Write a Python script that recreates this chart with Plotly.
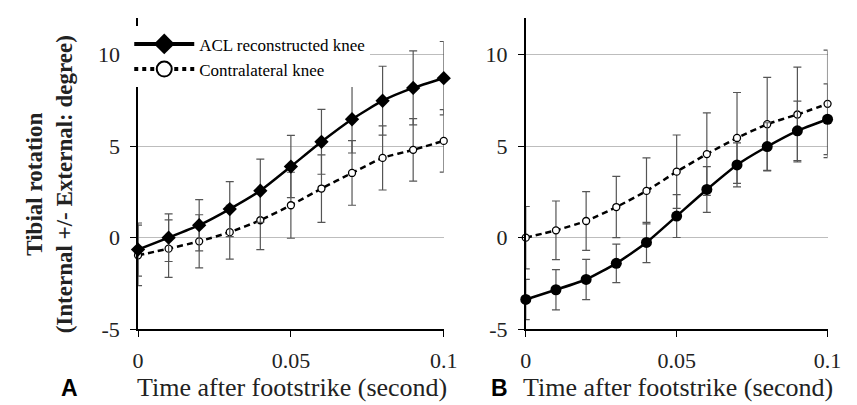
import plotly.graph_objects as go

time_s = [0.0, 0.01, 0.02, 0.03, 0.04, 0.05, 0.06, 0.07, 0.08, 0.09, 0.1]

# Panel A
a_acl_mean = [-0.65, 0.0, 0.68, 1.56, 2.56, 3.88, 5.23, 6.46, 7.47, 8.17, 8.7]
a_acl_sd = [1.45, 1.3, 1.4, 1.5, 1.72, 1.7, 1.77, 1.84, 1.88, 2.02, 2.0]
a_con_mean = [-0.96, -0.6, -0.2, 0.3, 0.95, 1.77, 2.68, 3.53, 4.35, 4.79, 5.28]
a_con_sd = [1.65, 1.57, 1.45, 1.47, 1.6, 1.8, 1.84, 1.76, 1.75, 1.7, 1.7]

# Panel B
b_acl_mean = [-3.37, -2.84, -2.28, -1.4, -0.26, 1.18, 2.63, 3.97, 4.97, 5.83, 6.46]
b_acl_sd = [1.1, 1.1, 1.1, 1.05, 1.1, 1.17, 1.25, 1.2, 1.3, 1.62, 1.93]
b_con_mean = [0.0, 0.4, 0.91, 1.67, 2.55, 3.6, 4.56, 5.44, 6.19, 6.72, 7.3]
b_con_sd = [1.7, 1.6, 1.6, 1.67, 1.8, 2.0, 2.25, 2.48, 2.55, 2.58, 2.93]

y_ticks = [-5, 0, 5, 10]
y_tick_text = ["-5", "0", "5", "10"]
x_ticks = [0, 0.05, 0.1]
x_tick_text = ["0", "0.05", "0.1"]

series_names = ["ACL reconstructed knee", "Contralateral knee"]
x_title = "Time after footstrike (second)"
y_title = "<b>Tibial rotation<br>(Internal +/- External: degree)</b>"

SERIF = "Liberation Serif"
ERR = dict(type="data", thickness=1.2, width=4, color="#555555")

fig = go.Figure()


def add_panel(xa, ya, acl_m, acl_s, con_m, con_s, acl_symbol, acl_size):
    fig.add_trace(go.Scatter(
        x=time_s, y=con_m, mode="lines+markers", xaxis=xa, yaxis=ya,
        line=dict(color="black", width=2.5, dash="6px,4px", shape="spline", smoothing=0.5),
        marker=dict(symbol="circle", size=7, color="white", line=dict(color="black", width=1.3)),
        error_y=dict(array=con_s, **ERR), cliponaxis=False, showlegend=False))
    fig.add_trace(go.Scatter(
        x=time_s, y=acl_m, mode="lines+markers", xaxis=xa, yaxis=ya,
        line=dict(color="black", width=2.5, shape="spline", smoothing=0.5),
        marker=dict(symbol=acl_symbol, size=acl_size, color="black"),
        error_y=dict(array=acl_s, **ERR), cliponaxis=False, showlegend=False))


add_panel("x", "y", a_acl_mean, a_acl_sd, a_con_mean, a_con_sd, "diamond", 11)
add_panel("x2", "y2", b_acl_mean, b_acl_sd, b_con_mean, b_con_sd, "circle", 11)

# legend entries
fig.add_trace(go.Scatter(
    x=[None], y=[None], mode="lines+markers", name=series_names[0],
    line=dict(color="black", width=4),
    marker=dict(symbol="diamond", size=16, color="black")))
fig.add_trace(go.Scatter(
    x=[None], y=[None], mode="lines+markers", name=series_names[1],
    line=dict(color="black", width=4, dash="dot"),
    marker=dict(symbol="circle", size=15, color="white", line=dict(color="black", width=2))))

axis_common = dict(showline=True, linecolor="black", linewidth=1.5, ticks="outside",
                   ticklen=6, tickcolor="black", tickwidth=1.3, zeroline=False,
                   tickfont=dict(family=SERIF, size=22, color="#222"))
xaxis_common = dict(axis_common, range=[0, 0.1], tickvals=x_ticks, ticktext=x_tick_text,
                    showgrid=False, ticklabelstandoff=5)
yaxis_common = dict(axis_common, range=[-5, 12], tickvals=y_ticks, ticktext=y_tick_text,
                    showgrid=True, gridcolor="#bdbdbd", gridwidth=1, ticklabelstandoff=6)

ann_common = dict(xref="paper", yref="paper", showarrow=False, xanchor="center", yanchor="middle")

fig.update_layout(
    width=857, height=405,
    margin=dict(l=0, r=0, t=0, b=0),
    paper_bgcolor="white", plot_bgcolor="white",
    xaxis=dict(xaxis_common, domain=[127 / 857, 440 / 857], anchor="y"),
    yaxis=dict(yaxis_common, domain=[1 - 332 / 405, 1 - 10 / 405], anchor="x"),
    xaxis2=dict(xaxis_common, domain=[524 / 857, 833 / 857], anchor="y2"),
    yaxis2=dict(yaxis_common, domain=[1 - 332 / 405, 1 - 10 / 405], anchor="x2"),
    legend=dict(x=118 / 857, y=1 - 19 / 405, xanchor="left", yanchor="top",
                bgcolor="white", font=dict(family=SERIF, size=17, color="black"),
                itemwidth=60, tracegroupgap=0),
    annotations=[
        dict(ann_common, text=x_title, x=124 / 857, y=1 - 392 / 405, xanchor="left",
             font=dict(family=SERIF, size=26, color="#222")),
        dict(ann_common, text=x_title, x=519 / 857, y=1 - 392 / 405, xanchor="left",
             font=dict(family=SERIF, size=26, color="#222")),
        dict(ann_common, text="<b>A</b>", x=57 / 857, y=1 - 393 / 405,
             font=dict(family="Liberation Sans", size=23, color="black")),
        dict(ann_common, text="<b>B</b>", x=497 / 857, y=1 - 393 / 405,
             font=dict(family="Liberation Sans", size=23, color="black")),
        dict(ann_common, text=y_title, x=36 / 857, y=1 - 182 / 405, textangle=-90,
             font=dict(family=SERIF, size=23, color="#222")),
    ],
)

fig.write_html("out.html")
